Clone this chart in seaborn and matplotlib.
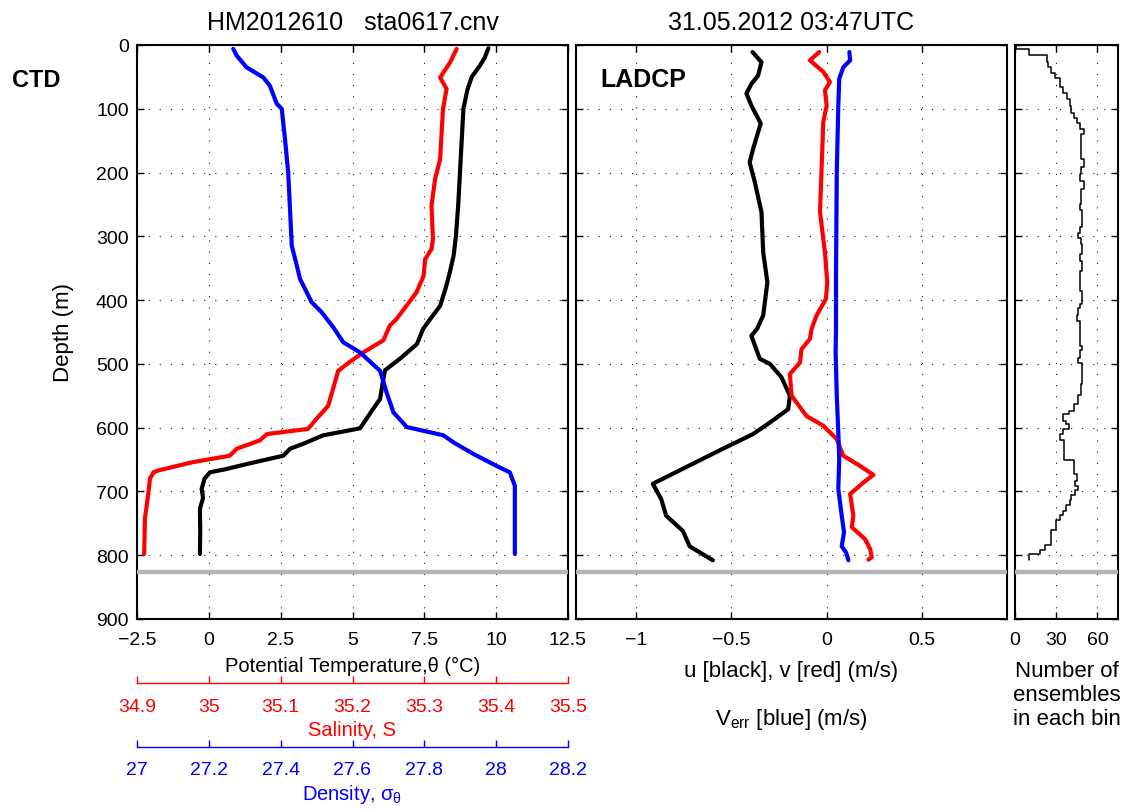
import numpy as np
import pandas as pd
import matplotlib
matplotlib.use("Agg")
import matplotlib.pyplot as plt
import seaborn as sns

# ---------------- data ----------------
# CTD: potential temperature (deg C)
ctd_t_depth = [5, 20, 32, 50, 70, 100, 150, 200, 250, 299, 330, 356, 380, 409, 430, 445, 469, 492, 510,
               530, 555, 575, 586, 601, 605, 612, 625, 633, 644, 657, 665, 670, 680, 696, 710, 727, 760, 798]
ctd_temp = [9.73, 9.60, 9.44, 9.15, 9.00, 8.86, 8.80, 8.74, 8.68, 8.60, 8.52, 8.39, 8.25, 8.05, 7.70, 7.46,
            7.24, 6.65, 6.13, 6.05, 5.96, 5.65, 5.49, 5.26, 4.80, 3.98, 3.30, 2.83, 2.59, 1.32, 0.60, 0.04,
            -0.15, -0.25, -0.20, -0.31, -0.30, -0.31]
# CTD: salinity
ctd_s_depth = [6, 27, 51, 69, 100, 179, 210, 252, 304, 320, 336, 362, 388, 409, 430, 440, 463, 482, 497,
               511, 539, 566, 586, 602, 610, 620, 633, 644, 654, 667, 670, 680, 701, 743, 798]
ctd_sal = [35.345, 35.336, 35.322, 35.331, 35.326, 35.322, 35.315, 35.310, 35.312, 35.310, 35.301, 35.299,
           35.289, 35.275, 35.261, 35.252, 35.243, 35.215, 35.196, 35.180, 35.173, 35.166, 35.150, 35.138,
           35.081, 35.071, 35.039, 35.029, 34.978, 34.930, 34.923, 34.918, 34.916, 34.911, 34.910]
# CTD: density sigma-theta
ctd_d_depth = [6, 17, 35, 51, 64, 92, 100, 147, 200, 315, 346, 367, 403, 419, 443, 466, 482, 511, 545,
               576, 599, 612, 623, 641, 660, 670, 691, 798]
ctd_sigma = [27.268, 27.278, 27.305, 27.352, 27.370, 27.389, 27.403, 27.412, 27.421, 27.431, 27.445,
             27.454, 27.486, 27.514, 27.547, 27.574, 27.621, 27.677, 27.695, 27.714, 27.751, 27.853,
             27.881, 27.936, 28.001, 28.038, 28.052, 28.052]

# LADCP: u (m/s)
u_depth = [11, 27, 48, 61, 76, 95, 123, 163, 184, 215, 262, 325, 372, 424, 445, 456, 492, 500, 521, 550,
           571, 592, 610, 633, 667, 688, 712, 738, 762, 786, 808]
u_vel = [-0.389, -0.342, -0.360, -0.395, -0.421, -0.395, -0.346, -0.386, -0.404, -0.377, -0.342, -0.333,
         -0.311, -0.333, -0.365, -0.395, -0.351, -0.298, -0.237, -0.193, -0.202, -0.298, -0.386, -0.544,
         -0.772, -0.912, -0.868, -0.842, -0.754, -0.719, -0.597]
# LADCP: v (m/s)
v_depth = [11, 24, 42, 58, 71, 95, 121, 189, 262, 325, 372, 398, 424, 445, 461, 477, 498, 516, 550, 582,
           597, 618, 644, 660, 674, 686, 704, 738, 756, 775, 790, 803, 807]
v_vel = [-0.039, -0.088, -0.018, 0.017, -0.009, 0.000, -0.018, -0.026, -0.035, -0.009, 0.003, -0.004,
         -0.053, -0.079, -0.088, -0.132, -0.140, -0.193, -0.184, -0.105, -0.018, 0.053, 0.087, 0.175,
         0.245, 0.193, 0.123, 0.140, 0.132, 0.202, 0.228, 0.237, 0.219]
# LADCP: error velocity (m/s)
e_depth = [11, 24, 35, 53, 95, 200, 356, 445, 482, 550, 607, 649, 696, 738, 764, 786, 796, 808]
e_vel = [0.119, 0.123, 0.087, 0.066, 0.061, 0.053, 0.049, 0.049, 0.047, 0.053, 0.061, 0.066, 0.061,
         0.079, 0.091, 0.079, 0.102, 0.114]

# Number of ensembles in each depth bin
bin_edges = [0, 7, 15, 27, 35, 44, 51, 66, 75, 84, 95, 106, 115, 123, 131, 140, 179, 192, 203, 213, 226,
             250, 258, 286, 294, 302, 312, 328, 338, 354, 385, 406, 412, 423, 433, 445, 472, 478, 490,
             499, 532, 548, 563, 574, 578, 589, 594, 602, 610, 619, 651, 673, 683, 691, 698, 706, 714,
             722, 730, 737, 745, 761, 784, 792, 798, 807]
bin_counts = [1, 10, 23, 24, 26, 29, 33, 35, 38, 40, 41, 43, 45, 47, 50, 48, 50, 48, 47, 50, 48, 47, 49,
              47, 46, 48, 49, 47, 49, 47, 49, 47, 46, 45, 47, 47, 49, 47, 46, 49, 48, 46, 43, 39, 35, 37,
              39, 35, 33, 36, 43, 45, 44, 46, 44, 41, 40, 37, 35, 33, 30, 26, 22, 18, 10]

bottom_depth = 826

# axis ticks / labels
depth_ticks = [0, 100, 200, 300, 400, 500, 600, 700, 800, 900]
temp_ticks = [-2.5, 0, 2.5, 5, 7.5, 10, 12.5]
temp_labels = ["\u22122.5", "0", "2.5", "5", "7.5", "10", "12.5"]
sal_ticks = [34.9, 35.0, 35.1, 35.2, 35.3, 35.4, 35.5]
sal_labels = ["34.9", "35", "35.1", "35.2", "35.3", "35.4", "35.5"]
dens_ticks = [27.0, 27.2, 27.4, 27.6, 27.8, 28.0, 28.2]
dens_labels = ["27", "27.2", "27.4", "27.6", "27.8", "28", "28.2"]
vel_ticks = [-1, -0.5, 0, 0.5]
vel_labels = ["\u22121", "\u22120.5", "0", "0.5"]
cnt_ticks = [0, 30, 60]
cnt_labels = ["0", "30", "60"]

# ---------------- style ----------------
sns.set_theme(style="white")
plt.rcParams["font.family"] = ["Liberation Sans", "DejaVu Sans"]
plt.rcParams["mathtext.fontset"] = "custom"
plt.rcParams["mathtext.rm"] = "Liberation Sans"
plt.rcParams["mathtext.it"] = "Liberation Sans:italic"
plt.rcParams["mathtext.default"] = "regular"
plt.rcParams["text.color"] = "black"
plt.rcParams["axes.labelcolor"] = "black"
plt.rcParams["xtick.color"] = "black"
plt.rcParams["ytick.color"] = "black"

W, H = 1127, 812
fig = plt.figure(figsize=(W / 100, H / 100), dpi=100)
fig.patch.set_facecolor("white")

AX_TOP, AX_BOT = 46, 620


def px_axes(x0, x1):
    return fig.add_axes([x0 / W, 1 - AX_BOT / H, (x1 - x0) / W, (AX_BOT - AX_TOP) / H])


def ybase(px):
    # axes-fraction y for a pixel row
    return (AX_BOT - px) / (AX_BOT - AX_TOP)


ax1 = px_axes(137, 568)
ax2 = px_axes(576, 1007)
ax3 = px_axes(1015, 1118)

TICK_FS = 14
LAB_FS_L = 14.5
LAB_FS_R = 16
grid_kw = dict(color="k", linestyle=(0, (1, 9)), linewidth=0.8)

# ---------------- CTD panel ----------------
axS = ax1.twiny()
axD = ax1.twiny()

sns.lineplot(x=ctd_temp, y=ctd_t_depth, sort=False, estimator=None, color="black", linewidth=3.0, ax=ax1)
sns.lineplot(x=ctd_sal, y=ctd_s_depth, sort=False, estimator=None, color="red", linewidth=3.0, ax=axS)
sns.lineplot(x=ctd_sigma, y=ctd_d_depth, sort=False, estimator=None, color="blue", linewidth=3.0, ax=axD)
ax1.axhline(bottom_depth, color="#b4b4b4", linewidth=3.2, zorder=5)

ax1.set_xlim(-2.5, 12.5)
ax1.set_ylim(900, 0)
ax1.set_xticks(temp_ticks)
ax1.set_xticklabels(temp_labels)
ax1.set_yticks(depth_ticks)
ax1.set_yticklabels([str(d) for d in depth_ticks])
ax1.set_xlabel("")
ax1.set_ylabel("Depth (m)", fontsize=16, labelpad=16, color="black")
ax1.grid(True, **grid_kw)

for axx, lims, ticks, labels, col, pos in [
    (axS, (34.9, 35.5), sal_ticks, sal_labels, "red", -0.1115),
    (axD, (27.0, 28.2), dens_ticks, dens_labels, "blue", -0.2225),
]:
    axx.set_xlim(*lims)
    axx.set_xticks(ticks)
    axx.set_xticklabels(labels)
    axx.xaxis.set_ticks_position("bottom")
    axx.xaxis.set_label_position("bottom")
    axx.spines["bottom"].set_position(("axes", pos))
    axx.spines["bottom"].set_color(col)
    axx.spines["bottom"].set_linewidth(1.0)
    for s in ["top", "left", "right"]:
        axx.spines[s].set_visible(False)
    axx.tick_params(axis="x", direction="in", length=5, width=1, colors=col, labelsize=TICK_FS, pad=10.5)
    axx.set_xlabel("")
    axx.set_ylabel("")
    axx.grid(False)

ax1.text(0.5, ybase(672), "Potential Temperature,\u03b8 (\u00b0C)", transform=ax1.transAxes,
         ha="center", va="baseline", fontsize=LAB_FS_L, color="black")
ax1.text(0.5, ybase(736), "Salinity, S", transform=ax1.transAxes,
         ha="center", va="baseline", fontsize=LAB_FS_L, color="red")
ax1.text(0.5, ybase(800), r"Density, $\sigma_\theta$", transform=ax1.transAxes,
         ha="center", va="baseline", fontsize=LAB_FS_L, color="blue")
ax1.text(0.5, ybase(30), "HM2012610   sta0617.cnv", transform=ax1.transAxes,
         ha="center", va="baseline", fontsize=18, color="black")
fig.text(12 / W, 1 - 87 / H, "CTD", ha="left", va="baseline", fontsize=17, fontweight="bold",
         color="black")

# ---------------- LADCP panel ----------------
sns.lineplot(x=u_vel, y=u_depth, sort=False, estimator=None, color="black", linewidth=3.0, ax=ax2)
sns.lineplot(x=v_vel, y=v_depth, sort=False, estimator=None, color="red", linewidth=3.0, ax=ax2)
sns.lineplot(x=e_vel, y=e_depth, sort=False, estimator=None, color="blue", linewidth=3.0, ax=ax2)
ax2.axhline(bottom_depth, color="#b4b4b4", linewidth=3.2, zorder=5)
ax2.set_xlim(-1.315, 0.946)
ax2.set_ylim(900, 0)
ax2.set_xticks(vel_ticks)
ax2.set_xticklabels(vel_labels)
ax2.set_yticks(depth_ticks)
ax2.set_yticklabels([])
ax2.set_xlabel("")
ax2.set_ylabel("")
ax2.grid(True, **grid_kw)
ax2.text(0.056, ybase(87), "LADCP", transform=ax2.transAxes, ha="left", va="baseline",
         fontsize=18, fontweight="bold", color="black")
ax2.text(0.5, ybase(677), "u [black], v [red] (m/s)", transform=ax2.transAxes,
         ha="center", va="baseline", fontsize=LAB_FS_R, color="black")
ax2.text(0.5, ybase(725), r"$V_{err}$ [blue] (m/s)", transform=ax2.transAxes,
         ha="center", va="baseline", fontsize=LAB_FS_R, color="black")
ax2.text(0.5, ybase(30), "31.05.2012 03:47UTC", transform=ax2.transAxes,
         ha="center", va="baseline", fontsize=18, color="black")

# ---------------- ensembles panel ----------------
step_x, step_y = [], []
for c, top, bot in zip(bin_counts, bin_edges[:-1], bin_edges[1:]):
    step_x += [c, c]
    step_y += [top, bot]
sns.lineplot(x=step_x, y=step_y, sort=False, estimator=None, color="black", linewidth=1.1, ax=ax3)
ax3.axhline(bottom_depth, color="#b4b4b4", linewidth=3.2, zorder=5)
ax3.set_xlim(0, 75)
ax3.set_ylim(900, 0)
ax3.set_xticks(cnt_ticks)
ax3.set_xticklabels(cnt_labels)
ax3.set_yticks(depth_ticks)
ax3.set_yticklabels([])
ax3.set_xlabel("")
ax3.set_ylabel("")
ax3.grid(True, **grid_kw)
for i, line in enumerate(["Number of", "ensembles", "in each bin"]):
    ax3.text(0.5, ybase(677 + 24 * i), line, transform=ax3.transAxes,
             ha="center", va="baseline", fontsize=LAB_FS_R, color="black")

# ---------------- common frame styling ----------------
for ax in (ax1, ax2, ax3):
    for s in ax.spines.values():
        s.set_visible(True)
        s.set_color("black")
        s.set_linewidth(1.5)
    ax.tick_params(axis="both", direction="in", length=5, width=1, colors="black",
                   labelsize=TICK_FS, top=True, right=True, bottom=True, left=True)
    ax.tick_params(axis="x", pad=9)
    ax.tick_params(axis="y", pad=6)
    ax.set_axisbelow(True)

fig.savefig("out.png", dpi=100, facecolor="white")
